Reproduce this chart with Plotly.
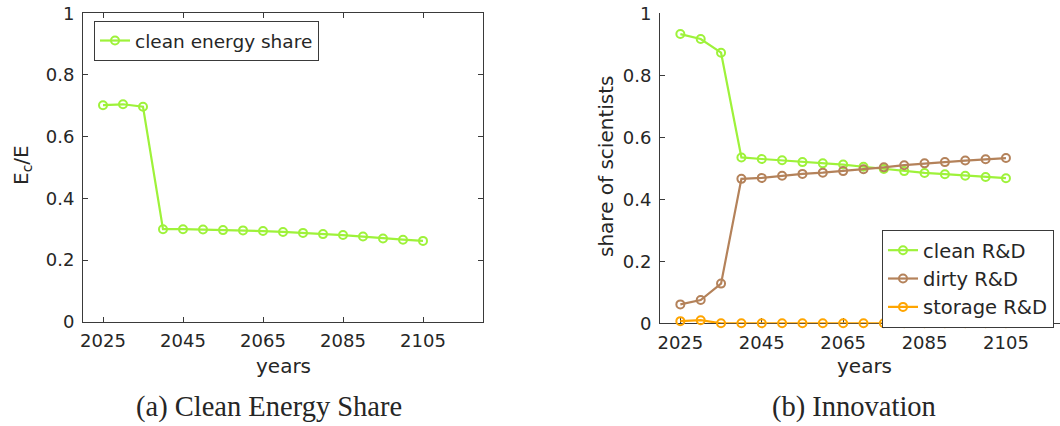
import plotly.graph_objects as go

years = [2025, 2030, 2035, 2040, 2045, 2050, 2055, 2060, 2065, 2070, 2075, 2080, 2085, 2090, 2095, 2100, 2105]
clean_energy_share = [0.702, 0.705, 0.697, 0.300, 0.300, 0.299, 0.297, 0.296, 0.294, 0.291, 0.288, 0.284, 0.281, 0.276, 0.270, 0.266, 0.262]
clean_rd = [0.933, 0.917, 0.873, 0.535, 0.530, 0.526, 0.520, 0.516, 0.512, 0.505, 0.498, 0.491, 0.485, 0.481, 0.476, 0.472, 0.468]
dirty_rd = [0.061, 0.075, 0.128, 0.466, 0.469, 0.476, 0.482, 0.486, 0.491, 0.497, 0.503, 0.510, 0.516, 0.520, 0.525, 0.529, 0.533]
storage_rd = [0.007, 0.010, 0.0, 0.0, 0.0, 0.0, 0.0, 0.0, 0.0, 0.0, 0.0, 0.0, 0.0, 0.0, 0.0, 0.0, 0.0]
x_ticks = [2025, 2045, 2065, 2085, 2105]
y_ticks = [0, 0.2, 0.4, 0.6, 0.8, 1]
y_tick_text = ["0", "0.2", "0.4", "0.6", "0.8", "1"]

GREEN = "#9ef23a"
BROWN = "#b4825a"
ORANGE = "#ffa500"
AX = "#3a3a3a"
TXT = "#262626"
SANS = "DejaVu Sans"

W, H = 1060, 426

def px(x):
    return x / W

def py(y):
    return 1 - y / H

fig = go.Figure()

def line(x, y, name, color, xa, ya, legend):
    fig.add_trace(go.Scatter(
        x=x, y=y, name=name, mode="lines+markers", cliponaxis=False,
        line=dict(color=color, width=2.2),
        marker=dict(symbol="circle-open", size=8, color=color, line=dict(width=2, color=color)),
        xaxis=xa, yaxis=ya, legend=legend,
    ))

line(years, clean_energy_share, "clean energy share", GREEN, "x", "y", "legend")
line(years, clean_rd, "clean R&D", GREEN, "x2", "y2", "legend2")
line(years, dirty_rd, "dirty R&D", BROWN, "x2", "y2", "legend2")
line(years, storage_rd, "storage R&D", ORANGE, "x2", "y2", "legend2")

axis_common = dict(
    showgrid=False, zeroline=False, showline=True, linecolor=AX, linewidth=1,
    ticks="inside", ticklen=5, tickcolor=AX, tickwidth=1,
    tickfont=dict(family=SANS, size=18, color=TXT),
)

fig.update_layout(
    width=W, height=H, margin=dict(l=0, r=0, t=0, b=0, pad=0, autoexpand=False),
    paper_bgcolor="white", plot_bgcolor="white",
    xaxis=dict(domain=[px(83), px(483)], range=[2020, 2120], tickvals=x_ticks,
               anchor="y", mirror="ticks", ticklabelstandoff=3, **axis_common),
    yaxis=dict(domain=[py(321.7), py(13.3)], range=[0, 1], tickvals=y_ticks, ticktext=y_tick_text,
               anchor="x", mirror="ticks", ticklabelstandoff=4, **axis_common),
    xaxis2=dict(domain=[px(660), 1.0], range=[2020, 2020 + 400 / 4.07], tickvals=x_ticks,
                anchor="y2", layer="below traces", ticklabelstandoff=3, **axis_common),
    yaxis2=dict(domain=[py(323.3), py(13.3)], range=[0, 1], tickvals=y_ticks, ticktext=y_tick_text,
                anchor="x2", ticklabelstandoff=4, layer="below traces", **axis_common),
    legend=dict(x=px(94), y=py(21), xanchor="left", yanchor="top",
                bgcolor="white", bordercolor=AX, borderwidth=1,
                font=dict(family=SANS, size=18.5, color=TXT)),
    legend2=dict(x=px(882), y=py(230), xanchor="left", yanchor="top",
                 bgcolor="white", bordercolor=AX, borderwidth=1, tracegroupgap=0,
                 font=dict(family=SANS, size=19.5, color=TXT)),
    showlegend=True,
)

def ann(text, x, y, size, family=SANS, angle=0):
    fig.add_annotation(text=text, x=px(x), y=py(y), xref="paper", yref="paper",
                       showarrow=False, xanchor="center", yanchor="middle",
                       textangle=angle, font=dict(family=family, size=size, color=TXT))

ann("years", 283, 366, 20)
ann("years", 864, 366, 20)
ann("E<sub>c</sub>/E", 22, 165, 20, angle=-90)
ann("share of scientists", 606, 167, 20, angle=-90)
ann("(a) Clean Energy Share", 269, 407, 28.5, family="Liberation Serif")
ann("(b) Innovation", 854, 407, 28.5, family="Liberation Serif")

fig.write_html("out.html")
